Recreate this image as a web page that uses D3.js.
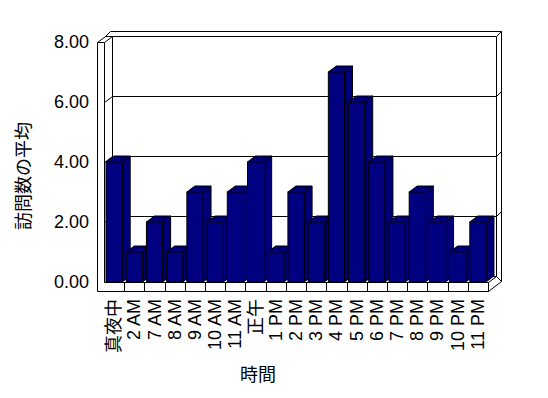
<html>
<head>
<meta charset="utf-8">
<style>
  body { margin: 0; background: #fff; }
  text { font-family: "Liberation Sans", Arial, "Noto Sans CJK JP", sans-serif; font-size: 18px; fill: #000; }
</style>
</head>
<body>
<svg width="548" height="398"></svg>
<script src="https://d3js.org/d3.v7.min.js"></script>
<script>

var hours = ["真夜中", "2 AM", "7 AM", "8 AM", "9 AM", "10 AM", "11 AM", "正午", "1 PM", "2 PM",
  "3 PM", "4 PM", "5 PM", "6 PM", "7 PM", "8 PM", "9 PM", "10 PM", "11 PM"];
var visits = [4, 1, 2, 1, 3, 2, 3, 4, 1, 3, 2, 7, 6, 4, 2, 3, 2, 1, 2];
var yTicks = [0, 2, 4, 6, 8];

var svg = d3.select("svg");

// front plane of the plot, depth offset of the 3d box
var left = 104, right = 488;
var dx = 8, dy = -6;
var wallW = 7, floorH = 9, backT = 5;

var X = d3.scaleBand().domain(hours).range([left, right]).paddingInner(0.2).paddingOuter(0.1);
var band = d3.scaleBand().domain(hours).range([left, right]);
var Y = d3.scaleLinear().domain([0, 8]).range([282, 42]);

var defs = svg.append("defs");
var pat = defs.append("pattern")
  .attr("id", "dither")
  .attr("width", 2).attr("height", 2)
  .attr("patternUnits", "userSpaceOnUse");
pat.append("rect").attr("width", 2).attr("height", 2).attr("fill", "#000");
pat.append("rect").attr("width", 1).attr("height", 1).attr("fill", "#000080");
pat.append("rect").attr("x", 1).attr("y", 1).attr("width", 1).attr("height", 1).attr("fill", "#000080");

function poly(pts) { return "M" + pts.map(function(p) { return p.join(","); }).join("L") + "Z"; }

var y0 = Y(0), yT = Y(8);
var wl = left - wallW;
var walls = svg.append("g")
  .attr("fill", "#fff").attr("stroke", "#000").attr("stroke-width", 1)
  .attr("transform", "translate(0.5,0.5)");

// back wall
walls.append("path").attr("d", poly([[left + dx, yT + dy], [right + dx, yT + dy], [right + dx, y0 + dy], [left + dx, y0 + dy]]));
// back wall top and right edges
walls.append("path").attr("d", poly([[wl + dx, yT + dy], [right + dx, yT + dy], [right + dx + backT, yT + dy - backT], [wl + dx + backT, yT + dy - backT]]));
walls.append("path").attr("d", poly([[right + dx, yT + dy], [right + dx + backT, yT + dy - backT], [right + dx + backT, y0 + dy + backT], [right + dx, y0 + dy]]));
// floor right side
walls.append("path").attr("d", poly([[right, y0], [right + dx, y0 + dy], [right + dx + backT, y0 + dy + backT], [right, y0 + floorH]]));
// left wall top
walls.append("path").attr("d", poly([[wl, yT], [left, yT], [left + dx, yT + dy], [wl + dx, yT + dy]]));

// gridlines
walls.selectAll(".grid")
  .data(yTicks.filter(function(v) { return v > 0 && v < 8; }))
  .enter()
  .append("path")
  .attr("fill", "none")
  .attr("d", function(v) {
    var y = Y(v);
    return "M" + wl + "," + y + "L" + left + "," + y + "L" + (left + dx) + "," + (y + dy) +
      "L" + (right + dx) + "," + (y + dy) + "L" + (right + dx + backT) + "," + (y + dy - backT);
  });

// left wall and floor front faces
walls.append("path").attr("d", poly([[wl, yT], [left, yT], [left, y0], [right, y0], [right, y0 + floorH], [wl, y0 + floorH]]));
walls.selectAll(".tick")
  .data(hours.slice(1))
  .enter()
  .append("line")
  .attr("x1", function(d) { return Math.round(band(d)); })
  .attr("x2", function(d) { return Math.round(band(d)); })
  .attr("y1", y0).attr("y2", y0 + floorH);

// bars
var w = X.bandwidth();
var bars = svg.append("g").attr("stroke", "#000").attr("stroke-width", 1);
hours.forEach(function(h, i) {
  var x0 = X(h), yt = Y(visits[i]);
  var g = bars.append("g");
  g.append("path").attr("fill", "url(#dither)")
    .attr("d", poly([[x0 + w, yt], [x0 + w + dx, yt + dy], [x0 + w + dx, y0 + dy], [x0 + w, y0]]));
  g.append("path").attr("fill", "url(#dither)")
    .attr("d", poly([[x0, yt], [x0 + dx, yt + dy], [x0 + w + dx, yt + dy], [x0 + w, yt]]));
  g.append("rect").attr("fill", "#000080")
    .attr("x", x0).attr("y", yt).attr("width", w).attr("height", y0 - yt);
});

// value axis labels
svg.append("g")
  .attr("transform", "translate(" + (wl - 8) + ",0)")
  .call(d3.axisLeft(Y).tickValues(yTicks).tickFormat(d3.format(".2f")).tickSize(0).tickPadding(0))
  .call(function(g) { g.select(".domain").remove(); })
  .selectAll("text")
  .style("font-size", "18px")
  .style("font-family", "'Liberation Sans', Arial, sans-serif");

// category labels
svg.append("g").selectAll("text")
  .data(hours)
  .enter()
  .append("text")
  .attr("text-anchor", "end")
  .attr("dominant-baseline", "central")
  .attr("transform", function(d) { return "translate(" + (band(d) + band.bandwidth() / 2) + ",299) rotate(-90)"; })
  .text(function(d) { return d; });

svg.append("text")
  .attr("text-anchor", "middle")
  .attr("dominant-baseline", "central")
  .attr("transform", "translate(24,176) rotate(-90)")
  .text("訪問数の平均");

svg.append("text")
  .attr("x", 258).attr("y", 375)
  .attr("text-anchor", "middle")
  .attr("dominant-baseline", "central")
  .text("時間");

</script>
</body>
</html>
